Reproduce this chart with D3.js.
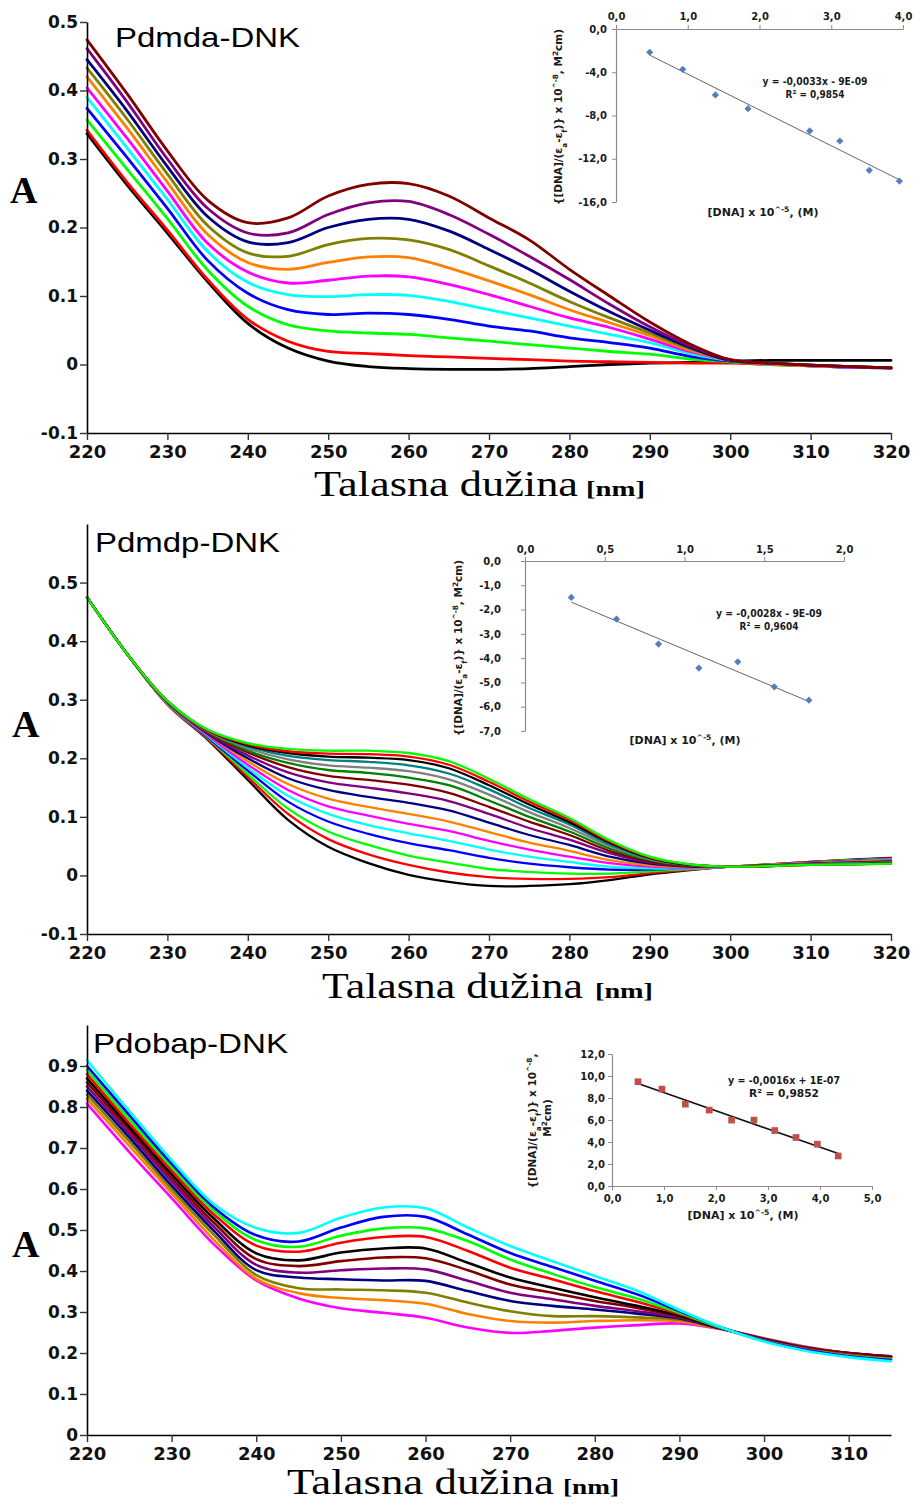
<!DOCTYPE html>
<html><head><meta charset="utf-8">
<script src="https://cdn.jsdelivr.net/npm/d3@7"></script>
<style>body{margin:0;background:#fff}svg{display:block}</style>
</head><body>
<svg id="c" width="915" height="1504"></svg>
<script>
// ---------- DATA ----------
const wl1 = [220,225,230,235,240,245,250,255,260,265,270,275,280,285,290,295,300,305,310,315,320];
const wl2 = wl1;
const wl3 = [220,225,230,235,240,245,250,255,260,265,270,275,280,285,290,295,300,305,310,315];
const xTicks1 = [220,230,240,250,260,270,280,290,300,310,320];
const xTicks3 = [220,230,240,250,260,270,280,290,300,310];
const yTicks1 = [-0.1,0,0.1,0.2,0.3,0.4,0.5];
const yTicks3 = [0,0.1,0.2,0.3,0.4,0.5,0.6,0.7,0.8,0.9];

// Pdmda-DNK: columns = series (maroon ... black), rows = wavelengths wl1
const pdmdaColors = ["#800000","#800080","#000080","#808000","#ff8000","#ff00ff","#00ffff","#0000ff","#00ff00","#ff0000","#000000"];
const pdmdaRows = [
[0.474,0.461,0.445,0.433,0.420,0.404,0.390,0.374,0.357,0.342,0.337],
[0.395,0.383,0.370,0.358,0.345,0.330,0.316,0.302,0.285,0.266,0.262],
[0.312,0.300,0.289,0.278,0.266,0.253,0.241,0.228,0.213,0.196,0.192],
[0.240,0.228,0.216,0.203,0.190,0.177,0.165,0.152,0.138,0.124,0.121],
[0.207,0.192,0.179,0.163,0.149,0.135,0.120,0.104,0.085,0.066,0.060],
[0.214,0.192,0.178,0.158,0.139,0.119,0.102,0.080,0.058,0.034,0.024],
[0.246,0.219,0.200,0.175,0.149,0.123,0.099,0.073,0.049,0.019,0.005],
[0.263,0.236,0.212,0.184,0.157,0.129,0.102,0.075,0.046,0.016,-0.003],
[0.264,0.238,0.212,0.182,0.156,0.128,0.101,0.073,0.044,0.013,-0.006],
[0.246,0.219,0.195,0.168,0.141,0.117,0.092,0.066,0.039,0.011,-0.007],
[0.214,0.190,0.168,0.144,0.122,0.102,0.080,0.056,0.034,0.009,-0.007],
[0.182,0.158,0.139,0.119,0.102,0.085,0.068,0.049,0.029,0.007,-0.006],
[0.139,0.124,0.107,0.092,0.080,0.068,0.056,0.039,0.024,0.005,-0.003],
[0.100,0.088,0.077,0.068,0.061,0.054,0.044,0.032,0.019,0.004,0.000],
[0.062,0.055,0.050,0.046,0.042,0.037,0.032,0.024,0.015,0.003,0.002],
[0.030,0.027,0.025,0.023,0.021,0.019,0.016,0.012,0.008,0.002,0.003],
[0.007,0.007,0.006,0.006,0.006,0.006,0.006,0.005,0.004,0.002,0.005],
[0.002,0.002,0.002,0.002,0.001,0.001,0.001,0.001,0.000,0.000,0.006],
[-0.001,-0.001,-0.001,-0.001,-0.002,-0.002,-0.002,-0.002,-0.002,-0.002,0.006],
[-0.003,-0.003,-0.003,-0.003,-0.003,-0.004,-0.004,-0.004,-0.004,-0.004,0.006],
[-0.005,-0.005,-0.005,-0.005,-0.005,-0.005,-0.005,-0.005,-0.005,-0.005,0.006]];

// Pdmdp-DNK
const pdmdpColors = ["#00ff00","#ff0000","#000000","#008080","#808080","#008000","#800000","#800080","#000080","#ff8000","#ff00ff","#00ffff","#0000ff","#00ff00","#ff0000","#000000"];
const pdmdpRows = [
[0.475,0.475,0.475,0.475,0.475,0.475,0.475,0.475,0.475,0.475,0.475,0.475,0.475,0.475,0.475,0.475],
[0.378,0.378,0.378,0.378,0.378,0.378,0.378,0.378,0.378,0.378,0.378,0.378,0.378,0.378,0.378,0.378],
[0.298,0.298,0.298,0.297,0.297,0.297,0.296,0.296,0.296,0.295,0.295,0.294,0.294,0.293,0.292,0.292],
[0.249,0.248,0.248,0.247,0.246,0.246,0.245,0.243,0.242,0.241,0.239,0.238,0.236,0.235,0.233,0.232],
[0.226,0.224,0.222,0.220,0.217,0.213,0.210,0.205,0.200,0.195,0.189,0.184,0.179,0.173,0.168,0.163],
[0.216,0.212,0.209,0.204,0.198,0.192,0.185,0.176,0.166,0.156,0.146,0.136,0.126,0.114,0.105,0.095],
[0.213,0.208,0.203,0.197,0.188,0.180,0.170,0.159,0.146,0.131,0.118,0.105,0.092,0.075,0.062,0.049],
[0.213,0.207,0.201,0.194,0.184,0.175,0.163,0.150,0.134,0.117,0.102,0.086,0.071,0.052,0.036,0.021],
[0.209,0.203,0.197,0.188,0.178,0.167,0.155,0.140,0.124,0.105,0.088,0.072,0.055,0.034,0.018,0.001],
[0.195,0.189,0.183,0.174,0.164,0.154,0.141,0.127,0.111,0.092,0.076,0.059,0.043,0.022,0.005,-0.011],
[0.165,0.160,0.154,0.147,0.138,0.128,0.117,0.105,0.090,0.074,0.059,0.044,0.030,0.011,-0.003,-0.018],
[0.130,0.126,0.121,0.115,0.108,0.100,0.092,0.081,0.069,0.056,0.044,0.032,0.020,0.006,-0.006,-0.018],
[0.098,0.095,0.091,0.087,0.081,0.075,0.069,0.061,0.052,0.042,0.032,0.023,0.014,0.003,-0.006,-0.015],
[0.060,0.058,0.056,0.053,0.050,0.046,0.042,0.038,0.032,0.026,0.021,0.015,0.010,0.003,-0.003,-0.008],
[0.032,0.031,0.030,0.029,0.028,0.026,0.024,0.022,0.020,0.017,0.015,0.012,0.010,0.007,0.004,0.002],
[0.019,0.019,0.018,0.018,0.018,0.017,0.016,0.016,0.015,0.014,0.013,0.012,0.012,0.011,0.010,0.009],
[0.015,0.015,0.015,0.015,0.015,0.015,0.015,0.015,0.015,0.015,0.015,0.015,0.015,0.015,0.015,0.015],
[0.016,0.016,0.016,0.016,0.016,0.017,0.017,0.017,0.017,0.018,0.018,0.018,0.018,0.019,0.019,0.019],
[0.018,0.018,0.018,0.019,0.019,0.019,0.019,0.020,0.020,0.021,0.021,0.021,0.022,0.022,0.023,0.023],
[0.019,0.019,0.019,0.020,0.020,0.021,0.021,0.022,0.022,0.023,0.024,0.024,0.025,0.026,0.026,0.027],
[0.020,0.020,0.021,0.021,0.022,0.022,0.023,0.023,0.024,0.025,0.026,0.027,0.027,0.028,0.029,0.030]];

// Pdobap-DNK
const pdobapColors = ["#00ffff","#0000ff","#00ff00","#ff0000","#000000","#800000","#800080","#000080","#808000","#ff8000","#ff00ff"];
const pdobapRows = [
[0.914,0.900,0.890,0.880,0.870,0.860,0.850,0.840,0.830,0.820,0.808],
[0.790,0.780,0.770,0.760,0.752,0.744,0.735,0.726,0.716,0.705,0.690],
[0.670,0.662,0.654,0.645,0.636,0.627,0.618,0.608,0.599,0.590,0.578],
[0.563,0.555,0.547,0.538,0.528,0.518,0.508,0.498,0.488,0.476,0.465],
[0.505,0.487,0.475,0.462,0.443,0.429,0.415,0.402,0.390,0.381,0.377],
[0.493,0.472,0.459,0.447,0.426,0.412,0.396,0.384,0.358,0.346,0.333],
[0.530,0.506,0.486,0.469,0.445,0.424,0.402,0.380,0.355,0.334,0.309],
[0.555,0.532,0.504,0.483,0.455,0.433,0.406,0.377,0.353,0.329,0.298],
[0.553,0.532,0.504,0.483,0.455,0.431,0.404,0.376,0.347,0.320,0.286],
[0.506,0.489,0.473,0.449,0.420,0.402,0.376,0.351,0.323,0.295,0.262],
[0.461,0.444,0.428,0.408,0.384,0.367,0.347,0.327,0.302,0.278,0.249],
[0.424,0.410,0.393,0.380,0.359,0.347,0.331,0.315,0.290,0.274,0.254],
[0.388,0.376,0.361,0.351,0.336,0.327,0.315,0.306,0.290,0.278,0.262],
[0.352,0.343,0.333,0.325,0.315,0.310,0.302,0.296,0.287,0.280,0.268],
[0.305,0.302,0.298,0.295,0.291,0.289,0.286,0.284,0.281,0.277,0.272],
[0.262,0.262,0.261,0.261,0.260,0.260,0.260,0.259,0.259,0.258,0.258],
[0.228,0.229,0.230,0.231,0.232,0.233,0.234,0.234,0.235,0.235,0.236],
[0.205,0.207,0.208,0.210,0.211,0.212,0.213,0.213,0.214,0.214,0.215],
[0.190,0.192,0.194,0.196,0.197,0.199,0.200,0.200,0.200,0.199,0.199],
[0.180,0.183,0.185,0.187,0.189,0.191,0.192,0.192,0.191,0.190,0.189]];

// Insets (Scatchard-type plots)
const inset1X = [0.47,0.93,1.385,1.84,2.70,3.12,3.53,3.95];
const inset1Y = [-2.15,-3.73,-6.10,-7.37,-9.43,-10.36,-13.07,-14.06];
const inset1XTicks = [0,1,2,3,4];
const inset1YTicks = [0,-4,-8,-12,-16];
const inset2X = [0.29,0.574,0.837,1.09,1.334,1.563,1.78];
const inset2Y = [-1.50,-2.39,-3.42,-4.41,-4.15,-5.18,-5.73];
const inset2XTicks = [0,0.5,1,1.5,2];
const inset2YTicks = [0,-1,-2,-3,-4,-5,-6,-7];
const inset3X = [0.50,0.96,1.41,1.87,2.30,2.73,3.13,3.54,3.95,4.35];
const inset3Y = [9.48,8.81,7.44,6.90,5.99,5.99,5.04,4.41,3.80,2.73];
const inset3XTicks = [0,1,2,3,4,5];
const inset3YTicks = [0,2,4,6,8,10,12];
const eq1 = ["y = -0,0033x - 9E-09","R² = 0,9854"];
const eq2 = ["y = -0,0028x - 9E-09","R² = 0,9604"];
const eq3 = ["y = -0,0016x + 1E-07","R² = 0,9852"];

// ---------- DRAWING ----------
const svg = d3.select("#c");
const dotLoc = d3.formatLocale({decimal:".",thousands:",",grouping:[3],currency:["",""],minus:"-"});
const comLoc = d3.formatLocale({decimal:",",thousands:".",grouping:[3],currency:["",""],minus:"-"});
const fmtMain = d => Math.abs(d) < 1e-9 ? "0" : dotLoc.format(".1f")(d);
const fmtInset = comLoc.format(".1f");

function addText(x, y, txt, o) {
  const t = svg.append("text").attr("x", x).attr("y", y)
    .attr("font-family", o.family).attr("font-size", o.size)
    .attr("font-weight", o.weight || "normal").attr("fill", o.fill || "#000")
    .text(txt);
  if (o.len) t.attr("textLength", o.len).attr("lengthAdjust", "spacingAndGlyphs");
  if (o.anchor) t.attr("text-anchor", o.anchor);
  return t;
}

function drawPanel(p) {
  const x = d3.scaleLinear().domain(p.xDomain).range(p.xRange);
  const y = d3.scaleLinear().domain(p.yDomain).range(p.yRange);
  const g = svg.append("g");
  const line = d3.line().x(d => x(d[0])).y(d => y(d[1])).curve(d3.curveCatmullRom.alpha(0.5));
  const n = p.colors.length;
  d3.range(n).reverse().forEach(i => {
    const pts = p.wl.map((w, k) => [w, p.rows[k][i]]);
    g.append("path").attr("d", line(pts)).attr("fill", "none")
      .attr("stroke", p.colors[i]).attr("stroke-width", p.sw)
      .attr("stroke-linejoin", "round").attr("stroke-linecap", "round");
  });
  const ya = g.append("g").attr("transform", `translate(${p.xRange[0]},0)`)
    .call(d3.axisLeft(y).tickValues(p.yTicks).tickFormat(fmtMain).tickSize(7).tickSizeOuter(0).tickPadding(2));
  const xa = g.append("g").attr("transform", `translate(0,${p.yRange[0]})`)
    .call(d3.axisBottom(x).tickValues(p.xTicks).tickFormat(d3.format("d")).tickSize(7).tickSizeOuter(0).tickPadding(p.xPad));
  [ya, xa].forEach(a => {
    a.select(".domain").attr("stroke", "#000").attr("stroke-width", 1.6);
    a.selectAll(".tick line").attr("stroke", "#333").attr("stroke-width", 1.4);
    a.selectAll("text").attr("font-family", "DejaVu Sans").attr("font-weight", "bold").attr("fill", "#111");
  });
  ya.selectAll("text").attr("font-size", 17);
  xa.selectAll("text").attr("font-size", 18);
  addText(p.title[0], p.title[1], p.title[2], {family: "Liberation Sans", size: 28, len: p.title[3]});
  addText(p.aLab[0], p.aLab[1], "A", {family: "Liberation Serif", size: 38, weight: "bold"});
  addText(p.xt[0], p.xt[1], "Talasna dužina", {family: "Liberation Serif", size: 35, len: p.xt[2]});
  addText(p.xt[3], p.xt[1], "[nm]", {family: "Liberation Serif", size: 21, weight: "bold", len: p.xt[4]});
}

drawPanel({xDomain:[220,320], xRange:[87,891], yDomain:[-0.1,0.5], yRange:[433,22],
  wl: wl1, rows: pdmdaRows, colors: pdmdaColors, sw: 2.8, yTicks: yTicks1, xTicks: xTicks1, xPad: 5,
  title:[115,47,"Pdmda-DNK",185], aLab:[10,203], xt:[314,496,264,586,59]});
drawPanel({xDomain:[220,320], xRange:[87,891], yDomain:[-0.1,0.6], yRange:[934,524],
  wl: wl2, rows: pdmdpRows, colors: pdmdpColors, sw: 2.3, yTicks: yTicks1, xTicks: xTicks1, xPad: 5,
  title:[95,552,"Pdmdp-DNK",185], aLab:[12,737], xt:[322,998,261,595,58]});
drawPanel({xDomain:[220,315], xRange:[87,891], yDomain:[0,1.0], yRange:[1435,1025],
  wl: wl3, rows: pdobapRows, colors: pdobapColors, sw: 2.6, yTicks: yTicks3, xTicks: xTicks3, xPad: 5,
  title:[93,1053,"Pdobap-DNK",195], aLab:[12,1257], xt:[287,1494,267,563,56]});

// ---------- INSETS ----------
function regress(xs, ys) {
  const mx = d3.mean(xs), my = d3.mean(ys);
  const b = d3.sum(xs.map((v, i) => (v - mx) * (ys[i] - my))) / d3.sum(xs.map(v => (v - mx) * (v - mx)));
  return {b, a: my - b * mx};
}
function richText(g, parts, o) {
  const t = g.append("text").attr("font-family", "DejaVu Sans").attr("font-weight", "bold")
    .attr("font-size", o.size).attr("fill", "#1a1a1a").attr("text-anchor", o.anchor || "middle");
  parts.forEach(pt => {
    const s = t.append("tspan").text(pt[0]);
    if (pt[1] === "sup") s.attr("baseline-shift", "super").attr("font-size", o.size * 0.7);
    if (pt[1] === "sub") s.attr("baseline-shift", "sub").attr("font-size", o.size * 0.7);
  });
  return t;
}
const ytitleParts = [["{[DNA]/(ε"],["a","sub"],["-ε"],["f","sub"],[")} x 10"],["^-8","sup"],[", M"],["2","sup"],["cm)"]];
const xtitleParts = [["[DNA] x 10"],["^-5","sup"],[", (M)"]];

function drawInset(q) {
  const x = d3.scaleLinear().domain(q.xDomain).range(q.xRange);
  const y = d3.scaleLinear().domain(q.yDomain).range(q.yRange);
  const g = svg.append("g");
  const xAxis = (q.xTop ? d3.axisTop(x) : d3.axisBottom(x)).tickValues(q.xTicks).tickFormat(fmtInset)
    .tickSize(4).tickSizeOuter(0).tickPadding(q.xPad);
  const xa = g.append("g").attr("transform", `translate(0,${y(q.xAt)})`).call(xAxis);
  const ya = g.append("g").attr("transform", `translate(${x(0)},0)`)
    .call(d3.axisLeft(y).tickValues(q.yTicks).tickFormat(fmtInset).tickSize(4).tickSizeOuter(0).tickPadding(q.yPad));
  [xa, ya].forEach(a => {
    a.select(".domain").attr("stroke", "#8a8a8a").attr("stroke-width", 1.2);
    a.selectAll(".tick line").attr("stroke", "#8a8a8a");
    a.selectAll("text").attr("font-family", "DejaVu Sans").attr("font-weight", "bold")
      .attr("font-size", 10).attr("fill", "#1a1a1a");
  });
  const r = regress(q.xs, q.ys);
  const x0 = d3.min(q.xs), x1 = d3.max(q.xs);
  g.append("line").attr("x1", x(x0)).attr("y1", y(r.a + r.b * x0)).attr("x2", x(x1)).attr("y2", y(r.a + r.b * x1))
    .attr("stroke", q.lineColor).attr("stroke-width", q.lineW);
  g.selectAll("path.pt").data(q.xs).enter().append("path").attr("class", "pt")
    .attr("d", d3.symbol(d3.symbolSquare, q.markSize))
    .attr("transform", (d, i) => `translate(${x(d)},${y(q.ys[i])}) rotate(${q.rot})`)
    .attr("fill", q.markColor);
  addText(q.eqPos[0], q.eqPos[1], q.eq[0], {family: "DejaVu Sans", size: 10, weight: "bold", anchor: "middle", len: q.eqPos[2], fill: "#1a1a1a"});
  addText(q.eqPos[0], q.eqPos[3], q.eq[1], {family: "DejaVu Sans", size: 10, weight: "bold", anchor: "middle", len: q.eqPos[4], fill: "#1a1a1a"});
  const xt = richText(g, xtitleParts, {size: 11});
  xt.attr("x", q.xtPos[0]).attr("y", q.xtPos[1]);
  if (q.ytLines) {
    q.ytLines.forEach(L => {
      const tg = g.append("g").attr("transform", `translate(${L.x},${L.y}) rotate(-90)`);
      richText(tg, L.parts, {size: 10.5});
    });
  }
}

drawInset({xDomain:[0,4], xRange:[616,903], yDomain:[-16,0], yRange:[202,29], xTop:true, xAt:0,
  xTicks: inset1XTicks, yTicks: inset1YTicks, xPad: 5, yPad: 5, xs: inset1X, ys: inset1Y,
  lineColor:"#666", lineW:1, markSize:26, rot:45, markColor:"#4f81bd",
  eq: eq1, eqPos:[815,85,105,98,59], xtPos:[763,216],
  ytLines:[{x:562, y:117, parts: ytitleParts}]});
drawInset({xDomain:[0,2], xRange:[525,844], yDomain:[-7,0], yRange:[731,561], xTop:true, xAt:0,
  xTicks: inset2XTicks, yTicks: inset2YTicks, xPad: 4, yPad: 20, xs: inset2X, ys: inset2Y,
  lineColor:"#666", lineW:1, markSize:26, rot:45, markColor:"#4f81bd",
  eq: eq2, eqPos:[769,617,106,630,59], xtPos:[685,744],
  ytLines:[{x:462, y:648, parts: ytitleParts}]});
drawInset({xDomain:[0,5], xRange:[612,872], yDomain:[0,12], yRange:[1186,1054], xTop:false, xAt:0,
  xTicks: inset3XTicks, yTicks: inset3YTicks, xPad: 5, yPad: 3, xs: inset3X, ys: inset3Y,
  lineColor:"#111", lineW:1.6, markSize:45, rot:0, markColor:"#c0504d",
  eq: eq3, eqPos:[784,1084,112,1097,70], xtPos:[743,1219],
  ytLines:[{x:536, y:1121, parts: [["{[DNA]/(ε"],["a","sub"],["-ε"],["f","sub"],[")} x 10"],["^-8","sup"],[","]]},
           {x:551, y:1118, parts: [["M"],["2","sup"],["cm)"]]}]});
</script>
</body></html>
